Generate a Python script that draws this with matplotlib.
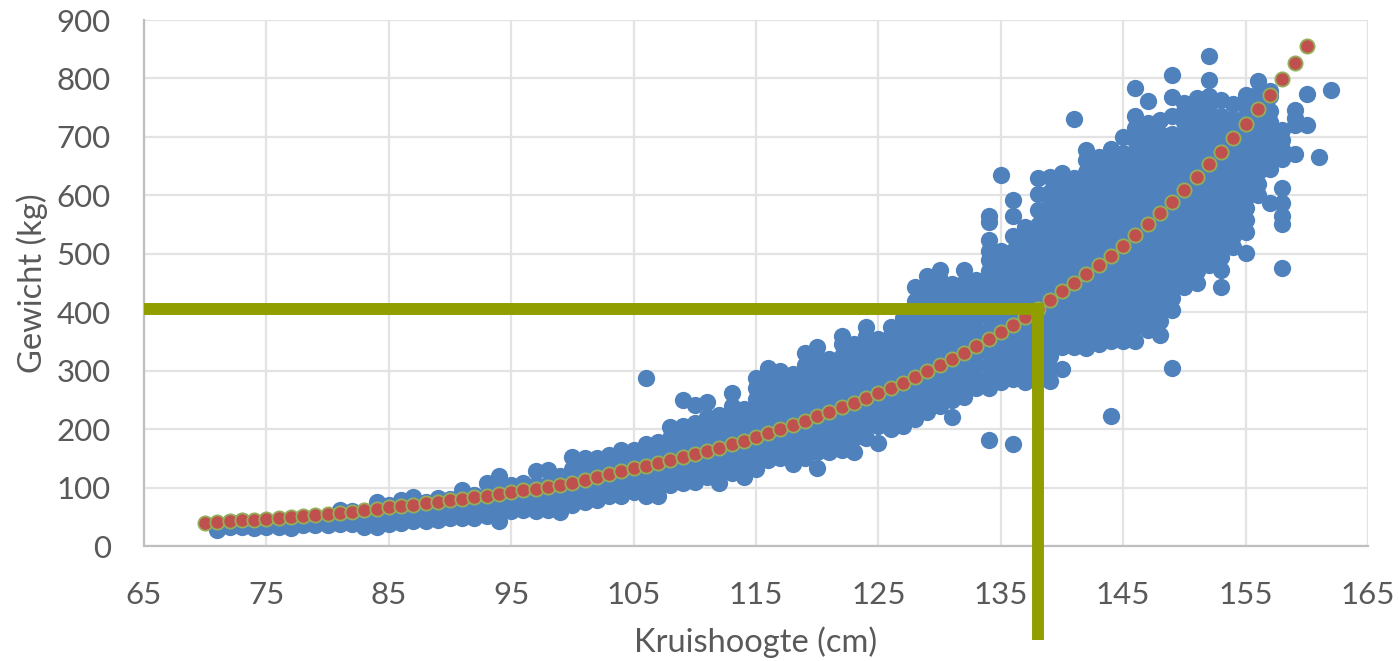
import matplotlib
matplotlib.use("Agg")
import matplotlib.pyplot as plt

# DATA
x_ticks = [65, 75, 85, 95, 105, 115, 125, 135, 145, 155, 165]
y_ticks = [0, 100, 200, 300, 400, 500, 600, 700, 800, 900]

# measured horses, one list of weights per height
cloud_heights = list(range(71, 163))
cloud_weights = [
    [28, 36], [33, 41], [33, 42], [30, 40], [33, 42], [33, 44], [31, 44], [36, 46], [36, 48], [36, 50],
    [38, 50, 62], [38, 48, 60], [32, 45, 60], [33, 48, 62, 76], [38, 52, 70],
    [40, 55, 68, 78], [42, 56, 70, 84], [42, 58, 75], [44, 60, 82], [48, 64, 80],
    [48, 62, 78, 95], [48, 66, 88], [52, 68, 88, 108], [42, 60, 80, 100, 120], [60, 78, 90, 105],
    [62, 82, 95, 108], [60, 80, 104, 128], [62, 82, 106, 130], [58, 78, 100, 120], [70, 90, 110, 132, 152],
    [75, 95, 115, 135, 150], [78, 98, 118, 138, 150], [85, 105, 125, 140, 155], [85, 108, 130, 150, 165],
    [92, 112, 135, 150, 165],
    [85, 105, 125, 145, 160, 175, 288],
    [85, 105, 125, 145, 165, 178],
    [105, 125, 145, 165, 185, 204],
    [108, 128, 148, 168, 188, 205, 250],
    [110, 130, 150, 170, 190, 210, 241],
    [118, 138, 158, 178, 198, 220, 247],
    [107, 127, 147, 167, 187, 207, 225],
    [125, 145, 165, 185, 205, 225, 240, 261],
    [118, 138, 158, 178, 198, 218, 235],
    [132, 152, 172, 192, 212, 232, 252, 270, 287],
    [148, 168, 188, 208, 228, 248, 268, 288, 304],
    [150, 170, 190, 210, 230, 250, 270, 290, 300],
    [141, 161, 181, 201, 221, 241, 261, 281, 295],
    [150, 170, 190, 210, 230, 250, 270, 290, 310, 330],
    [134, 160, 180, 200, 220, 240, 260, 280, 300, 320, 340],
    [160, 180, 200, 220, 240, 260, 280, 300, 320],
    [165, 185, 205, 225, 245, 265, 285, 305, 325, 345, 360],
    [160, 185, 205, 225, 245, 265, 285, 305, 325, 345],
    [185, 205, 225, 245, 265, 285, 305, 325, 345, 360, 375],
    [177, 205, 225, 245, 265, 285, 305, 325, 345, 355],
    [200, 220, 240, 260, 280, 300, 320, 340, 360, 375],
    [205, 225, 245, 265, 285, 305, 325, 345, 365, 390],
    [218, 240, 260, 280, 300, 320, 340, 360, 380, 400, 420, 444],
    [230, 250, 270, 290, 310, 330, 350, 370, 390, 410, 430, 450, 462],
    [240, 260, 280, 300, 320, 340, 360, 380, 400, 420, 440, 455, 472],
    [221, 250, 270, 290, 310, 330, 350, 370, 390, 410, 430, 448],
    [255, 275, 295, 315, 335, 355, 375, 395, 415, 435, 450, 472],
    [270, 290, 310, 330, 350, 370, 390, 410, 430, 445, 455],
    [181, 270, 290, 310, 330, 350, 370, 390, 410, 430, 450, 470, 490, 505, 524, 555, 564],
    [280, 298, 318, 338, 358, 378, 398, 418, 438, 458, 478, 495, 505, 634],
    [175, 285, 305, 325, 345, 365, 385, 405, 425, 445, 465, 485, 505, 530, 565, 592],
    [281, 300, 320, 340, 360, 380, 400, 420, 440, 460, 480, 500, 520, 545],
    [290, 310, 330, 350, 370, 390, 410, 430, 450, 470, 490, 510, 530, 550, 575, 603, 630],
    [282, 305, 325, 345, 365, 385, 405, 425, 445, 465, 485, 505, 525, 545, 565, 585, 605, 632],
    [302, 340, 360, 380, 400, 420, 440, 460, 480, 500, 520, 540, 560, 580, 600, 620, 638],
    [340, 358, 378, 398, 418, 438, 458, 478, 498, 518, 538, 558, 578, 598, 618, 630, 731],
    [338, 360, 380, 400, 420, 440, 460, 480, 500, 520, 540, 560, 580, 600, 620, 640, 660, 678],
    [345, 365, 385, 405, 425, 445, 465, 485, 505, 525, 545, 565, 585, 605, 625, 645, 665],
    [222, 350, 370, 390, 410, 430, 450, 470, 490, 510, 530, 550, 570, 590, 610, 630, 650, 665, 680],
    [350, 372, 392, 412, 432, 452, 472, 492, 512, 532, 552, 572, 592, 612, 632, 652, 672, 700],
    [350, 375, 395, 415, 435, 455, 475, 495, 515, 535, 555, 575, 595, 615, 635, 655, 675, 695, 715, 735, 783],
    [370, 390, 410, 430, 450, 470, 490, 510, 530, 550, 570, 590, 610, 630, 650, 670, 690, 710, 723, 762],
    [361, 385, 405, 425, 445, 465, 485, 505, 525, 545, 565, 585, 605, 625, 645, 665, 685, 705, 729],
    [305, 404, 425, 445, 465, 485, 505, 525, 545, 565, 585, 605, 625, 645, 665, 685, 705, 735, 768, 806],
    [444, 465, 485, 505, 525, 545, 565, 585, 605, 625, 645, 665, 685, 705, 725, 745, 758],
    [450, 470, 490, 510, 530, 550, 570, 590, 610, 630, 650, 670, 690, 710, 730, 750, 766],
    [481, 500, 520, 540, 560, 580, 600, 620, 640, 660, 680, 700, 720, 740, 755, 770, 798, 839],
    [444, 472, 495, 515, 535, 555, 575, 595, 615, 635, 655, 675, 695, 715, 735, 763],
    [512, 530, 550, 570, 590, 610, 630, 650, 670, 690, 710, 730, 757],
    [501, 537, 558, 578, 598, 618, 638, 658, 678, 698, 718, 738, 755, 772],
    [600, 620, 640, 660, 680, 700, 720, 740, 760, 775, 795],
    [587, 645, 665, 685, 705, 725, 745, 770, 778],
    [475, 551, 565, 587, 612, 663, 680, 695, 712],
    [670, 720, 732, 746],
    [720, 773],
    [665],
    [781],
]

# trend line, one point per cm from 70 to 160
trend_heights = list(range(70, 161))
trend_weights = [
    40, 41, 42, 44, 45, 47, 48, 50, 51, 53,
    55, 57, 59, 61, 63, 66, 68, 70, 73, 75,
    78, 80, 83, 86, 89, 92, 95, 98, 101, 105,
    108, 113, 118, 123, 128, 133, 137, 142, 147, 152,
    157, 163, 168, 174, 180, 187, 193, 200, 207, 214,
    222, 229, 237, 245, 253, 261, 270, 279, 289, 299,
    310, 320, 331, 343, 355, 367, 378, 392, 406, 421,
    436, 450, 465, 481, 497, 514, 532, 551, 569, 589,
    609, 631, 653, 675, 698, 722, 747, 772, 799, 827,
    856,
]

# the reading marked on the chart
mark_height = 138
mark_weight = 406
mark_bottom = -161

W, H = 1399, 661
fig = plt.figure(figsize=(W / 100, H / 100), dpi=100)
ax = fig.add_axes([144 / W, 1 - 546 / H, (1368 - 144) / W, (546 - 20) / H])

TEXT = "#595959"

# flatten the columns for scatter
xs = []
ys = []
for h, col in zip(cloud_heights, cloud_weights):
    xs += [h] * len(col)
    ys += col

ax.scatter(xs, ys, s=155, color="#4F81BD", linewidths=0, zorder=3, clip_on=False)
ax.scatter(trend_heights, trend_weights, s=105, color="#C0504D", edgecolors="#95AE5A",
           linewidths=1.3, zorder=4, clip_on=False)

# marker lines, thick like in the report
ax.plot([65, mark_height + 0.3], [mark_weight, mark_weight], color="#919E00", lw=8.6,
        solid_capstyle="butt", zorder=5)
ax.plot([mark_height, mark_height], [mark_weight + 10, mark_bottom], color="#919E00", lw=8.6,
        solid_capstyle="butt", zorder=5, clip_on=False)

ax.set_xlim(65, 165)
ax.set_ylim(0, 900)
ax.set_xticks(x_ticks)
ax.set_yticks(y_ticks)
ax.grid(True, color="#E3E3E3", lw=1.6, zorder=0)
ax.set_axisbelow(True)

for side in ["top", "right"]:
    ax.spines[side].set_visible(False)
for side in ["left", "bottom"]:
    ax.spines[side].set_color("#BFBFBF")
    ax.spines[side].set_linewidth(1.6)

ax.tick_params(axis="x", length=0, pad=25, labelsize=22.5, labelcolor=TEXT)
ax.tick_params(axis="y", length=0, pad=24, labelsize=22.5, labelcolor=TEXT)
for lab in ax.get_xticklabels() + ax.get_yticklabels():
    lab.set_family("Lato")

ax.set_xlabel("Kruishoogte (cm)", fontsize=23.5, color=TEXT, family="Lato", labelpad=13)
ax.set_ylabel("Gewicht (kg)", fontsize=23.5, color=TEXT, family="Lato", labelpad=6)

fig.savefig("out.png", dpi=100)
